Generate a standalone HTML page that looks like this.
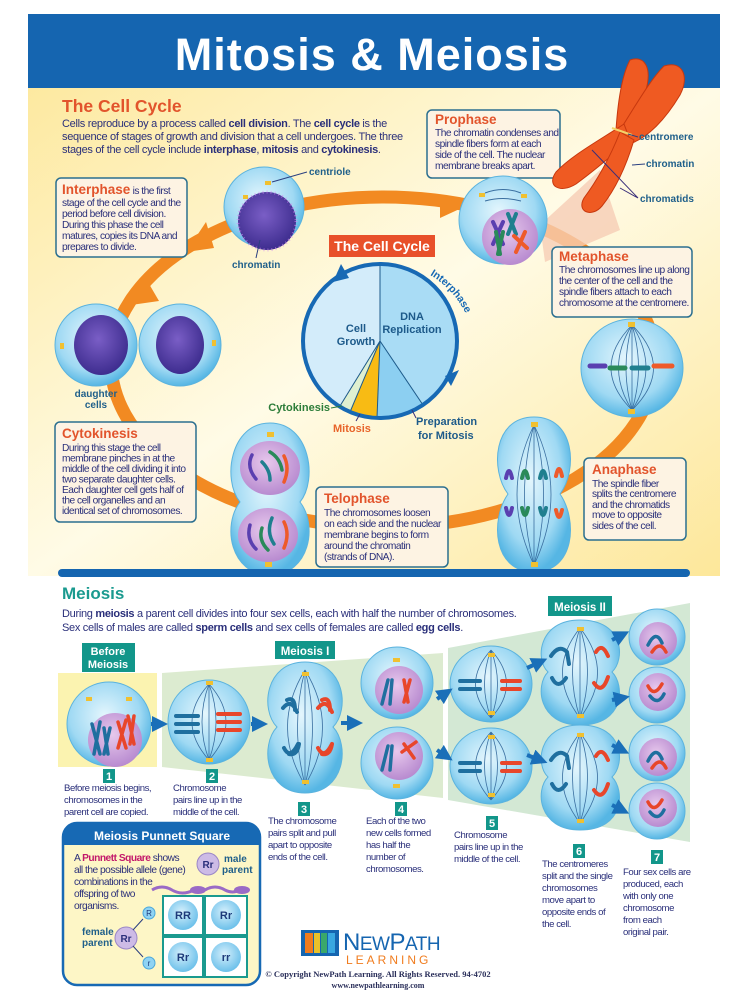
<!DOCTYPE html>
<html><head><meta charset="utf-8"><style>
html,body{margin:0;padding:0;background:#fff;}
svg{display:block;font-family:"Liberation Sans",sans-serif;}
.b{fill:#2a2f7a;font-size:10.2px;letter-spacing:-0.5px;}
.h{fill:#e2542c;font-weight:bold;font-size:13.5px;}
.lab{fill:#1f5f8a;font-weight:bold;font-size:10px;}
.cap{fill:#2a2f7a;font-size:9.6px;letter-spacing:-0.45px;}
.num{fill:#fff;font-weight:bold;font-size:11px;text-anchor:middle;}
</style></head><body>
<svg width="737" height="1000" viewBox="0 0 737 1000" xmlns="http://www.w3.org/2000/svg">
<defs>
<radialGradient id="cell" cx="45%" cy="40%" r="60%"><stop offset="0" stop-color="#e4f6fd"/><stop offset="0.7" stop-color="#9fd9f3"/><stop offset="1" stop-color="#56b6e4"/></radialGradient>
<radialGradient id="nuc" cx="45%" cy="40%" r="60%"><stop offset="0" stop-color="#7a5ec6"/><stop offset="1" stop-color="#3e2d8f"/></radialGradient>
<radialGradient id="pnk" cx="45%" cy="40%" r="60%"><stop offset="0" stop-color="#e7c8ec"/><stop offset="1" stop-color="#b88bd0"/></radialGradient>
<linearGradient id="yel" x1="0" y1="0" x2="1" y2="1"><stop offset="0" stop-color="#fde9a0"/><stop offset="0.5" stop-color="#fffbe6"/><stop offset="1" stop-color="#fde79a"/></linearGradient>
<radialGradient id="pc" cx="45%" cy="40%" r="60%"><stop offset="0" stop-color="#d6f0fc"/><stop offset="1" stop-color="#6cc0ea"/></radialGradient>
<marker id="ah" markerWidth="4" markerHeight="4" refX="2" refY="2" orient="auto"><path d="M0,0 L4,2 L0,4Z" fill="#1a6fb8"/></marker>
</defs>

<rect x="28" y="14" width="692" height="74" fill="#1565b0"/>
<text x="372" y="70" text-anchor="middle" font-size="45" font-weight="bold" fill="#fff" letter-spacing="1">Mitosis &amp; Meiosis</text>
<rect x="28" y="88" width="692" height="488" fill="url(#yel)"/>

<ellipse cx="383" cy="362" rx="272" ry="165" fill="none" stroke="#f28a22" stroke-width="13"/>
<path d="M186,252 l20,-30 l8,26z" fill="#f28a22"/>
<path d="M440,196 l26,10 l-26,12z" fill="#f28a22"/>
<path d="M131,305 l14,-28 l14,24z" fill="#f28a22"/>

<text x="62" y="112" font-size="17.5" font-weight="bold" fill="#e2542c">The Cell Cycle</text>
<text x="62" y="127" font-size="11" fill="#2a2f7a" letter-spacing="-0.3">Cells reproduce by a process called <tspan font-weight="bold">cell division</tspan>. The <tspan font-weight="bold">cell cycle</tspan> is the</text>
<text x="62" y="140" font-size="11" fill="#2a2f7a" letter-spacing="-0.3">sequence of stages of growth and division that a cell undergoes. The three</text>
<text x="62" y="153" font-size="11" fill="#2a2f7a" letter-spacing="-0.3">stages of the cell cycle include <tspan font-weight="bold">interphase</tspan>, <tspan font-weight="bold">mitosis</tspan> and <tspan font-weight="bold">cytokinesis</tspan>.</text>

<rect x="56" y="178" width="131" height="79" rx="5" fill="#fdf3e3" stroke="#2b6f8f" stroke-width="1.5"/>
<text x="62" y="194"><tspan class="h" font-size="13">Interphase</tspan><tspan class="b"> is the first</tspan></text>
<text class="b" x="62" y="206">stage of the cell cycle and the</text>
<text class="b" x="62" y="217">period before cell division.</text>
<text class="b" x="62" y="228">During this phase the cell</text>
<text class="b" x="62" y="239">matures, copies its DNA and</text>
<text class="b" x="62" y="250">prepares to divide.</text>

<circle cx="264" cy="207" r="40" fill="url(#cell)" stroke="#5bb3de"/>
<circle cx="267" cy="221" r="29" fill="url(#nuc)"/>
<circle cx="267" cy="221" r="29" fill="none" stroke="#d08cf0" stroke-width="3" stroke-dasharray="1 3" opacity="0.6"/>
<rect x="265" y="181" width="6" height="4" fill="#f0c030"/><rect x="243" y="195" width="5" height="4" fill="#f0c030"/>
<line x1="272" y1="182" x2="307" y2="172" stroke="#2a3f80"/>
<text class="lab" x="309" y="175" font-weight="normal">centriole</text>
<line x1="260" y1="240" x2="256" y2="258" stroke="#2a3f80"/>
<text class="lab" x="232" y="268">chromatin</text>

<rect x="427" y="110" width="133" height="68" rx="5" fill="#fdf3e3" stroke="#2b6f8f" stroke-width="1.5"/>
<text class="h" x="435" y="124">Prophase</text>
<text class="b" x="435" y="136">The chromatin condenses and</text>
<text class="b" x="435" y="147">spindle fibers form at each</text>
<text class="b" x="435" y="158">side of the cell. The nuclear</text>
<text class="b" x="435" y="169">membrane breaks apart.</text>

<path d="M540,225 L600,170 L620,230 L545,262Z" fill="#f6cdb5" opacity="0.8"/>
<g fill="#ef5a22" stroke="#c7380e" stroke-width="1">
<path d="M616,130 C618,100 622,75 630,60 C645,55 652,68 646,90 C640,110 634,125 628,137Z"/>
<path d="M620,130 C636,105 650,80 664,66 C682,60 690,76 680,95 C665,120 648,137 632,143Z"/>
<path d="M624,124 C600,140 572,155 556,172 C546,186 560,194 576,184 C598,168 616,152 630,140Z"/>
<path d="M620,132 C610,158 596,182 584,198 C576,212 592,218 602,206 C618,186 628,160 634,140Z"/>
</g>
<line x1="612" y1="128" x2="632" y2="135" stroke="#f3d36a" stroke-width="2"/>
<line x1="628" y1="134" x2="638" y2="137" stroke="#2a3f80"/>
<text class="lab" x="639" y="140" font-weight="normal" fill="#1a5e80">centromere</text>
<line x1="632" y1="165" x2="645" y2="164" stroke="#2a3f80"/>
<text class="lab" x="646" y="167" font-weight="normal">chromatin</text>
<polyline points="592,150 638,198 620,188" fill="none" stroke="#3a2f7a"/>
<text class="lab" x="640" y="202" font-weight="normal">chromatids</text>

<circle cx="503" cy="220" r="44" fill="url(#cell)" stroke="#5bb3de"/>
<circle cx="510" cy="237" r="28" fill="url(#pnk)"/>
<path d="M485,193 Q503,186 521,193" fill="none" stroke="#3a6fa0"/><path d="M485,201 Q503,196 521,201" fill="none" stroke="#3a6fa0"/>
<rect x="479" y="193" width="6" height="4" fill="#f0c030"/><rect x="521" y="194" width="6" height="4" fill="#f0c030"/>
<g stroke-width="4" stroke-linecap="round" fill="none">
<path d="M493,222 L503,244 M503,222 L493,244" stroke="#5a3fb0"/>
<path d="M508,214 L516,234 M516,214 L508,234" stroke="#1f7f8f"/>
<path d="M496,232 L500,254 M503,232 L498,254" stroke="#2a8a5a"/>
<path d="M514,236 L527,248 M525,232 L516,252" stroke="#ee5a2a"/>
</g>

<rect x="552" y="247" width="140" height="70" rx="5" fill="#fdf3e3" stroke="#2b6f8f" stroke-width="1.5"/>
<text class="h" x="559" y="261">Metaphase</text>
<text class="b" x="559" y="273">The chromosomes line up along</text>
<text class="b" x="559" y="284">the center of the cell  and the</text>
<text class="b" x="559" y="295">spindle fibers attach to each</text>
<text class="b" x="559" y="306">chromosome at the centromere.</text>

<ellipse cx="632" cy="368" rx="51" ry="49" fill="url(#cell)" stroke="#5bb3de"/>
<g fill="none" stroke="#3a6fa0" stroke-width="0.8">
<path d="M632,325 Q590,368 632,410"/><path d="M632,325 Q605,368 632,410"/><path d="M632,325 Q620,368 632,410"/><path d="M632,325 L632,410"/><path d="M632,325 Q645,368 632,410"/><path d="M632,325 Q660,368 632,410"/><path d="M632,325 Q675,368 632,410"/>
</g>
<rect x="628" y="322" width="7" height="5" fill="#f0c030"/><rect x="628" y="409" width="7" height="5" fill="#f0c030"/>
<g stroke-width="5" stroke-linecap="round"><line x1="590" y1="366" x2="605" y2="366" stroke="#5a3fb0"/><line x1="610" y1="368" x2="625" y2="368" stroke="#2a8a5a"/><line x1="632" y1="368" x2="648" y2="368" stroke="#1f7f8f"/><line x1="654" y1="366" x2="672" y2="366" stroke="#ee5a2a"/></g>

<rect x="329" y="235" width="106" height="22" fill="#e8502a"/>
<text x="382" y="251" text-anchor="middle" font-size="14" font-weight="bold" fill="#fff">The Cell Cycle</text>
<circle cx="380" cy="341" r="77" fill="#d3ecfa"/>
<path d="M380,341 L380,264 A77,77 0 0 1 423,405Z" fill="#a9dcf5"/>
<path d="M380,341 L423,405 A77,77 0 0 1 377,418Z" fill="#8ccff1"/>
<path d="M380,341 L377,418 A77,77 0 0 1 350,412Z" fill="#f8bb14"/>
<path d="M380,341 L350,412 A77,77 0 0 1 340,406Z" fill="#dff0d0"/>
<g stroke="#1d5a8a" stroke-width="1"><line x1="380" y1="341" x2="380" y2="264"/><line x1="380" y1="341" x2="423" y2="405"/><line x1="380" y1="341" x2="377" y2="418"/><line x1="380" y1="341" x2="350" y2="412"/><line x1="380" y1="341" x2="340" y2="406"/></g>
<circle cx="380" cy="341" r="77" fill="none" stroke="#1769b4" stroke-width="4"/>
<path d="M333,282 l8,-18 l8,14z" fill="#1769b4"/>
<path d="M445,376 l14,-6 l-8,16z" fill="#1769b4"/>
<path id="arc" d="M430,275 A92,92 0 0 1 472,330" fill="none"/>
<text font-size="10.5" font-weight="bold" fill="#1769b4"><textPath href="#arc">Interphase</textPath></text>
<text x="356" y="332" text-anchor="middle" font-size="11" font-weight="bold" fill="#1d5a8a">Cell</text>
<text x="356" y="345" text-anchor="middle" font-size="11" font-weight="bold" fill="#1d5a8a">Growth</text>
<text x="412" y="320" text-anchor="middle" font-size="11" font-weight="bold" fill="#1d5a8a">DNA</text>
<text x="412" y="333" text-anchor="middle" font-size="11" font-weight="bold" fill="#1d5a8a">Replication</text>
<text x="330" y="411" text-anchor="end" font-size="11" font-weight="bold" fill="#2d7d3a">Cytokinesis</text>
<line x1="331" y1="408" x2="342" y2="406" stroke="#2d7d3a"/>
<text x="333" y="432" font-size="11" font-weight="bold" fill="#e8642a">Mitosis</text>
<line x1="356" y1="421" x2="360" y2="414" stroke="#3a2f7a"/>
<text x="416" y="425" font-size="11" font-weight="bold" fill="#1d5a8a">Preparation</text>
<text x="418" y="439" font-size="11" font-weight="bold" fill="#1d5a8a">for Mitosis</text>
<line x1="416" y1="418" x2="412" y2="410" stroke="#3a2f7a"/>

<path d="M534,417 C575,417 578,470 560,494 C578,520 575,572 534,572 C493,572 490,520 508,494 C490,470 493,417 534,417Z" fill="url(#cell)" stroke="#5bb3de"/>
<g fill="none" stroke="#3a6fa0" stroke-width="0.8"><path d="M534,425 Q500,494 534,565"/><path d="M534,425 Q515,494 534,565"/><path d="M534,425 L534,565"/><path d="M534,425 Q553,494 534,565"/><path d="M534,425 Q568,494 534,565"/></g>
<rect x="531" y="422" width="7" height="5" fill="#f0c030"/><rect x="531" y="562" width="7" height="5" fill="#f0c030"/>
<g stroke-width="4" fill="none" stroke-linecap="round"><path d="M506,478 q3,-14 6,0" stroke="#5a3fb0"/><path d="M522,478 q3,-14 6,0" stroke="#2a8a5a"/><path d="M540,478 q3,-14 6,0" stroke="#1f7f8f"/><path d="M556,476 q3,-14 6,0" stroke="#ee5a2a"/>
<path d="M506,508 q3,14 6,0" stroke="#5a3fb0"/><path d="M522,508 q3,14 6,0" stroke="#2a8a5a"/><path d="M540,508 q3,14 6,0" stroke="#1f7f8f"/><path d="M556,510 q3,14 6,0" stroke="#ee5a2a"/></g>

<rect x="584" y="458" width="102" height="82" rx="5" fill="#fdf3e3" stroke="#2b6f8f" stroke-width="1.5"/>
<text class="h" x="592" y="474">Anaphase</text>
<text class="b" x="592" y="487">The spindle fiber</text>
<text class="b" x="592" y="497">splits the centromere</text>
<text class="b" x="592" y="508">and the chromatids</text>
<text class="b" x="592" y="518">move to opposite</text>
<text class="b" x="592" y="529">sides of the cell.</text>

<path d="M270,423 C310,423 318,480 300,502 C318,525 310,575 270,575 C230,575 222,525 240,502 C222,480 230,423 270,423Z" fill="url(#cell)" stroke="#5bb3de"/>
<ellipse cx="270" cy="468" rx="30" ry="27" fill="url(#pnk)"/>
<ellipse cx="268" cy="535" rx="30" ry="27" fill="url(#pnk)"/>
<g stroke-width="3.5" fill="none" stroke-linecap="round">
<path d="M252,455 q-6,12 4,24" stroke="#5a3fb0"/><path d="M262,462 q8,8 8,18" stroke="#1f7f8f"/><path d="M270,452 q10,6 12,18" stroke="#2a8a5a"/><path d="M284,456 q6,12 0,26" stroke="#ee5a2a"/>
<path d="M250,525 q-4,14 6,24" stroke="#5a3fb0"/><path d="M262,528 q-4,12 6,22" stroke="#2a8a5a"/><path d="M272,518 q-6,14 2,26" stroke="#1f7f8f"/><path d="M284,522 q6,12 0,26" stroke="#ee5a2a"/></g>
<rect x="267" y="432" width="7" height="5" fill="#f0c030"/><rect x="265" y="562" width="7" height="5" fill="#f0c030"/>

<rect x="316" y="487" width="132" height="80" rx="5" fill="#fdf3e3" stroke="#2b6f8f" stroke-width="1.5"/>
<text class="h" x="324" y="503">Telophase</text>
<text class="b" x="324" y="516">The chromosomes loosen</text>
<text class="b" x="324" y="527">on each side and the nuclear</text>
<text class="b" x="324" y="538">membrane begins to form</text>
<text class="b" x="324" y="549">around the chromatin</text>
<text class="b" x="324" y="560">(strands of DNA).</text>

<circle cx="96" cy="345" r="41" fill="url(#cell)" stroke="#5bb3de"/>
<circle cx="180" cy="345" r="41" fill="url(#cell)" stroke="#5bb3de"/>
<ellipse cx="101" cy="345" rx="27" ry="30" fill="url(#nuc)"/>
<ellipse cx="180" cy="345" rx="24" ry="29" fill="url(#nuc)"/>
<rect x="60" y="343" width="4" height="6" fill="#f0c030"/><rect x="212" y="340" width="4" height="6" fill="#f0c030"/>
<text x="96" y="397" text-anchor="middle" class="lab">daughter</text>
<text x="96" y="408" text-anchor="middle" class="lab">cells</text>

<rect x="55" y="422" width="141" height="100" rx="5" fill="#fdf3e3" stroke="#2b6f8f" stroke-width="1.5"/>
<text class="h" x="62" y="438">Cytokinesis</text>
<text class="b" x="62" y="451">During this stage the cell</text>
<text class="b" x="62" y="461.5">membrane pinches in at the</text>
<text class="b" x="62" y="472">middle of the cell dividing it into</text>
<text class="b" x="62" y="482.5">two separate daughter cells.</text>
<text class="b" x="62" y="493">Each daughter cell gets half of</text>
<text class="b" x="62" y="503.5">the cell organelles and an</text>
<text class="b" x="62" y="514">identical set of chromosomes.</text>

<rect x="58" y="569" width="632" height="8" rx="4" fill="#1565b0"/>

<text x="62" y="599" font-size="17" font-weight="bold" fill="#1a9a8f">Meiosis</text>
<text x="62" y="617" font-size="11" fill="#2a2f7a" letter-spacing="-0.3">During <tspan font-weight="bold">meiosis</tspan> a parent cell divides into four sex cells, each with half the number of chromosomes.</text>
<text x="62" y="631" font-size="11" fill="#2a2f7a" letter-spacing="-0.3">Sex cells of males are called <tspan font-weight="bold">sperm cells</tspan> and sex cells of females are called <tspan font-weight="bold">egg cells</tspan>.</text>

<rect x="58" y="673" width="99" height="94" fill="#fbf3b0"/>
<polygon points="162,673 443,653 443,798 162,767" fill="#dcebd0"/>
<polygon points="448,648 690,603 690,842 448,800" fill="#d3e8d4"/>

<rect x="82" y="643" width="53" height="29" fill="#12968a"/>
<text x="108" y="655" text-anchor="middle" font-size="11" font-weight="bold" fill="#fff">Before</text>
<text x="108" y="668" text-anchor="middle" font-size="11" font-weight="bold" fill="#fff">Meiosis</text>
<rect x="275" y="641" width="60" height="18" fill="#12968a"/>
<text x="305" y="655" text-anchor="middle" font-size="11.5" font-weight="bold" fill="#fff">Meiosis I</text>
<rect x="548" y="596" width="64" height="20" fill="#12968a"/>
<text x="580" y="611" text-anchor="middle" font-size="11.5" font-weight="bold" fill="#fff">Meiosis II</text>

<circle cx="109" cy="724" r="42" fill="url(#cell)" stroke="#5bb3de"/>
<circle cx="115" cy="740" r="27" fill="url(#pnk)"/>
<rect x="86" y="697" width="6" height="4" fill="#f0c030"/><rect x="126" y="697" width="6" height="4" fill="#f0c030"/>
<g stroke-width="3.5" stroke-linecap="round" fill="none"><path d="M92,724 l8,30 M100,722 l-6,32" stroke="#1f6f9f"/><path d="M104,728 l4,26 M110,728 l-6,26" stroke="#1f6f9f"/><path d="M118,722 l8,26 M126,720 l-8,28" stroke="#e8462a"/><path d="M128,716 l6,28 M134,716 l-4,28" stroke="#e8462a"/></g>

<ellipse cx="209" cy="722" rx="41" ry="42" fill="url(#cell)" stroke="#5bb3de"/>
<g fill="none" stroke="#3a6fa0" stroke-width="0.8"><path d="M209,684 Q175,722 209,760"/><path d="M209,684 Q195,722 209,760"/><path d="M209,684 L209,760"/><path d="M209,684 Q223,722 209,760"/><path d="M209,684 Q243,722 209,760"/></g>
<rect x="206" y="681" width="7" height="4" fill="#f0c030"/><rect x="206" y="758" width="7" height="4" fill="#f0c030"/>
<g stroke-width="4" stroke-linecap="round"><path d="M176,716 h22 M176,724 h22" stroke="#1f6f9f"/><path d="M218,714 h22 M218,722 h22 M218,730 h22" stroke="#e8462a"/><path d="M176,732 h22" stroke="#1f6f9f"/></g>

<path d="M305,662 C345,662 350,710 333,727 C350,745 345,793 305,793 C265,793 260,745 277,727 C260,710 265,662 305,662Z" fill="url(#cell)" stroke="#5bb3de"/>
<g fill="none" stroke="#3a6fa0" stroke-width="0.8"><path d="M305,670 Q270,727 305,785"/><path d="M305,670 Q290,727 305,785"/><path d="M305,670 L305,785"/><path d="M305,670 Q320,727 305,785"/><path d="M305,670 Q340,727 305,785"/></g>
<rect x="302" y="672" width="7" height="4" fill="#f0c030"/><rect x="302" y="780" width="7" height="4" fill="#f0c030"/>
<g stroke-width="4" fill="none" stroke-linecap="round"><path d="M283,708 q8,-10 14,4 M287,700 q8,-4 8,10" stroke="#1f6f9f"/><path d="M318,708 q8,-10 14,4 M322,700 q8,-4 8,10" stroke="#e8462a"/><path d="M284,748 q6,12 14,-4 M289,754 q8,2 10,-10" stroke="#1f6f9f"/><path d="M318,748 q6,12 14,-4 M322,754 q8,2 10,-10" stroke="#e8462a"/></g>

<circle cx="397" cy="683" r="36" fill="url(#cell)" stroke="#5bb3de"/><circle cx="397" cy="763" r="36" fill="url(#cell)" stroke="#5bb3de"/>
<circle cx="399" cy="690" r="24" fill="url(#pnk)"/><circle cx="399" cy="756" r="24" fill="url(#pnk)"/>
<rect x="393" y="658" width="7" height="4" fill="#f0c030"/><rect x="393" y="784" width="7" height="4" fill="#f0c030"/>
<g stroke-width="3.5" stroke-linecap="round"><path d="M388,680 l-6,24 M392,680 l-2,24" stroke="#1f6f9f"/><path d="M404,680 l4,22 M410,680 l-6,22" stroke="#e8462a"/><path d="M388,746 l-6,24 M392,746 l-2,24" stroke="#1f6f9f"/><path d="M402,752 l14,-10 M404,744 l10,14" stroke="#e8462a"/></g>

<ellipse cx="491" cy="684" rx="41" ry="38" fill="url(#cell)" stroke="#5bb3de"/><ellipse cx="491" cy="766" rx="41" ry="38" fill="url(#cell)" stroke="#5bb3de"/>
<g fill="none" stroke="#3a6fa0" stroke-width="0.8"><path d="M491,650 Q460,684 491,718 M491,650 Q478,684 491,718 M491,650 L491,718 M491,650 Q504,684 491,718 M491,650 Q522,684 491,718"/><path d="M491,732 Q460,766 491,800 M491,732 Q478,766 491,800 M491,732 L491,800 M491,732 Q504,766 491,800 M491,732 Q522,766 491,800"/></g>
<g fill="#f0c030"><rect x="488" y="653" width="7" height="4"/><rect x="488" y="711" width="7" height="4"/><rect x="488" y="735" width="7" height="4"/><rect x="488" y="793" width="7" height="4"/></g>
<g stroke-width="4" stroke-linecap="round"><path d="M460,681 h20 M460,689 h20 M460,763 h20 M460,771 h20" stroke="#1f6f9f"/><path d="M502,681 h18 M502,689 h18 M502,763 h18 M502,771 h18" stroke="#e8462a"/></g>

<path d="M580,620 C625,620 625,660 612,672 C625,685 625,725 580,725 C538,725 535,685 548,672 C535,660 538,620 580,620Z" fill="url(#cell)" stroke="#5bb3de"/>
<path d="M580,725 C625,725 625,765 612,777 C625,790 625,830 580,830 C538,830 535,790 548,777 C535,765 538,725 580,725Z" fill="url(#cell)" stroke="#5bb3de"/>
<g fill="none" stroke="#3a6fa0" stroke-width="0.8"><path d="M580,628 Q545,672 580,718 M580,628 Q565,672 580,718 M580,628 L580,718 M580,628 Q595,672 580,718 M580,628 Q615,672 580,718"/><path d="M580,733 Q545,777 580,823 M580,733 Q565,777 580,823 M580,733 L580,823 M580,733 Q595,777 580,823 M580,733 Q615,777 580,823"/></g>
<g fill="#f0c030"><rect x="577" y="627" width="7" height="4"/><rect x="577" y="714" width="7" height="4"/><rect x="577" y="733" width="7" height="4"/><rect x="577" y="819" width="7" height="4"/></g>
<g stroke-width="4" fill="none" stroke-linecap="round"><path d="M551,656 q8,-12 16,-4 l2,12" stroke="#1f6f9f"/><path d="M596,652 q6,-10 12,4" stroke="#e8462a"/><path d="M552,678 q6,12 14,0" stroke="#1f6f9f"/><path d="M594,683 q8,12 14,-6" stroke="#e8462a"/><path d="M551,760 q8,-12 16,-4 l2,12" stroke="#1f6f9f"/><path d="M596,756 q6,-10 12,4" stroke="#e8462a"/><path d="M552,784 q6,12 14,0" stroke="#1f6f9f"/><path d="M594,790 q8,12 14,-6" stroke="#e8462a"/></g>

<g><circle cx="657" cy="637" r="28" fill="url(#cell)" stroke="#5bb3de"/><circle cx="657" cy="695" r="28" fill="url(#cell)" stroke="#5bb3de"/><circle cx="657" cy="753" r="28" fill="url(#cell)" stroke="#5bb3de"/><circle cx="657" cy="811" r="28" fill="url(#cell)" stroke="#5bb3de"/>
<circle cx="658" cy="641" r="19" fill="url(#pnk)"/><circle cx="658" cy="692" r="19" fill="url(#pnk)"/><circle cx="658" cy="757" r="19" fill="url(#pnk)"/><circle cx="658" cy="808" r="19" fill="url(#pnk)"/></g>
<g stroke-width="3.5" fill="none" stroke-linecap="round"><path d="M648,645 q8,-16 14,-2" stroke="#1f6f9f"/><path d="M652,652 q8,-12 14,0" stroke="#e8462a"/><path d="M648,686 q6,12 14,-2" stroke="#e8462a"/><path d="M650,696 q8,10 14,-2" stroke="#1f6f9f"/><path d="M648,761 q8,-16 14,-2" stroke="#1f6f9f"/><path d="M652,768 q8,-12 14,0" stroke="#e8462a"/><path d="M648,802 q6,12 14,-2" stroke="#e8462a"/><path d="M650,812 q8,10 14,-2" stroke="#1f6f9f"/></g>

<g stroke="#1a6fb8" stroke-width="4" marker-end="url(#ah)"><line x1="151" y1="724" x2="160" y2="724"/><line x1="251" y1="724" x2="260" y2="724"/><line x1="341" y1="723" x2="355" y2="723"/><line x1="437" y1="699" x2="446" y2="693"/><line x1="437" y1="750" x2="446" y2="756"/><line x1="527" y1="668" x2="540" y2="662"/><line x1="527" y1="755" x2="540" y2="760"/><line x1="612" y1="640" x2="622" y2="635"/><line x1="612" y1="700" x2="622" y2="698"/><line x1="612" y1="745" x2="622" y2="750"/><line x1="612" y1="805" x2="622" y2="810"/></g>

<g fill="#12968a"><rect x="103" y="769" width="12" height="14"/><rect x="206" y="769" width="12" height="14"/><rect x="298" y="802" width="12" height="14"/><rect x="395" y="802" width="12" height="14"/><rect x="486" y="816" width="12" height="14"/><rect x="573" y="844" width="12" height="14"/><rect x="651" y="850" width="12" height="14"/></g>
<text class="num" x="109" y="780">1</text><text class="num" x="212" y="780">2</text><text class="num" x="304" y="813">3</text><text class="num" x="401" y="813">4</text><text class="num" x="492" y="827">5</text><text class="num" x="579" y="855">6</text><text class="num" x="657" y="861">7</text>
<text class="cap" x="64" y="791">Before meiosis begins,</text><text class="cap" x="64" y="803">chromosomes in the</text><text class="cap" x="64" y="815">parent cell are copied.</text>
<text class="cap" x="173" y="791">Chromosome</text><text class="cap" x="173" y="803">pairs line up in the</text><text class="cap" x="173" y="815">middle of the cell.</text>
<text class="cap" x="268" y="824">The chromosome</text><text class="cap" x="268" y="836">pairs split and pull</text><text class="cap" x="268" y="848">apart to opposite</text><text class="cap" x="268" y="860">ends of the cell.</text>
<text class="cap" x="366" y="824">Each of the two</text><text class="cap" x="366" y="836">new cells formed</text><text class="cap" x="366" y="848">has half the</text><text class="cap" x="366" y="860">number of</text><text class="cap" x="366" y="872">chromosomes.</text>
<text class="cap" x="454" y="838">Chromosome</text><text class="cap" x="454" y="850">pairs line up in the</text><text class="cap" x="454" y="862">middle of the cell.</text>
<text class="cap" x="542" y="867">The centromeres</text><text class="cap" x="542" y="879">split and the single</text><text class="cap" x="542" y="891">chromosomes</text><text class="cap" x="542" y="903">move apart to</text><text class="cap" x="542" y="915">opposite ends of</text><text class="cap" x="542" y="927">the cell.</text>
<text class="cap" x="623" y="875">Four sex cells are</text><text class="cap" x="623" y="887">produced, each</text><text class="cap" x="623" y="899">with only one</text><text class="cap" x="623" y="911">chromosome</text><text class="cap" x="623" y="923">from each</text><text class="cap" x="623" y="935">original pair.</text>

<rect x="63" y="823" width="197" height="162" rx="14" fill="#fdf6c6" stroke="#1769b4" stroke-width="2.5"/>
<path d="M63,845 L63,837 A14,14 0 0 1 77,823 L246,823 A14,14 0 0 1 260,837 L260,845Z" fill="#1769b4"/>
<text x="162" y="840" text-anchor="middle" font-size="12" font-weight="bold" fill="#fff">Meiosis Punnett Square</text>
<text x="74" y="861" class="b" font-size="10.5"><tspan>A </tspan><tspan fill="#c2186a" font-weight="bold">Punnett Square</tspan><tspan> shows</tspan></text>
<text class="b" font-size="10.5" x="74" y="873">all the possible allele (gene)</text>
<text class="b" font-size="10.5" x="74" y="885">combinations in the</text>
<text class="b" font-size="10.5" x="74" y="897">offspring of two</text>
<text class="b" font-size="10.5" x="74" y="909">organisms.</text>
<circle cx="208" cy="864" r="11" fill="#cdbbe6" stroke="#9a86c6"/><text x="208" y="868" text-anchor="middle" font-size="10" font-weight="bold" fill="#2a2f7a">Rr</text>
<text x="224" y="862" class="lab" font-size="9.5">male</text><text x="222" y="873" class="lab" font-size="9.5">parent</text>
<path d="M152,890 q10,-6 20,0 q10,6 22,0" fill="none" stroke="#9a6ac6" stroke-width="3"/><ellipse cx="198" cy="890" rx="8" ry="4" fill="#9a6ac6"/>
<path d="M205,890 q10,-6 20,0 q8,4 14,0" fill="none" stroke="#9a6ac6" stroke-width="3"/><ellipse cx="242" cy="890" rx="8" ry="4" fill="#9a6ac6"/>
<g fill="#fff" stroke="#1a9a8f" stroke-width="2"><rect x="163" y="896" width="40" height="39"/><rect x="205" y="896" width="42" height="39"/><rect x="163" y="937" width="40" height="40"/><rect x="205" y="937" width="42" height="40"/></g>
<g fill="url(#pc)"><circle cx="183" cy="915" r="15"/><circle cx="226" cy="915" r="15"/><circle cx="183" cy="957" r="15"/><circle cx="226" cy="957" r="15"/></g>
<g font-size="11" font-weight="bold" fill="#1d3a7a" text-anchor="middle"><text x="183" y="919">RR</text><text x="226" y="919">Rr</text><text x="183" y="961">Rr</text><text x="226" y="961">rr</text></g>
<circle cx="126" cy="938" r="11" fill="#cdbbe6" stroke="#9a86c6"/><text x="126" y="942" text-anchor="middle" font-size="10" font-weight="bold" fill="#2a2f7a">Rr</text>
<text x="82" y="935" class="lab" font-size="9.5">female</text><text x="82" y="946" class="lab" font-size="9.5">parent</text>
<circle cx="149" cy="913" r="6" fill="#8fd3f3" stroke="#4aa8dc"/><text x="149" y="916" text-anchor="middle" font-size="8" fill="#1d3a7a">R</text>
<circle cx="149" cy="963" r="6" fill="#8fd3f3" stroke="#4aa8dc"/><text x="149" y="966" text-anchor="middle" font-size="8" fill="#1d3a7a">r</text>
<line x1="133" y1="930" x2="143" y2="919" stroke="#2a3f80"/><line x1="133" y1="946" x2="143" y2="957" stroke="#2a3f80"/>

<rect x="301" y="930" width="38" height="26" fill="#1565b0"/>
<rect x="305" y="933" width="8" height="20" fill="#f07c1e"/><rect x="314" y="933" width="6" height="20" fill="#e9c12a"/><rect x="321" y="933" width="6" height="20" fill="#3aa86a"/><rect x="328" y="933" width="7" height="20" fill="#39a7e0"/>
<text x="343" y="950" font-size="24" fill="#1565b0" letter-spacing="-0.5">N<tspan font-size="19">EW</tspan>P<tspan font-size="19">ATH</tspan></text>
<text x="346" y="964" font-size="12" fill="#f07c1e" letter-spacing="3">LEARNING</text>
<text x="378" y="977" text-anchor="middle" font-family="Liberation Serif,serif" font-size="8.5" font-weight="bold" fill="#2a2f5a">© Copyright NewPath Learning. All Rights Reserved. 94-4702</text>
<text x="378" y="988" text-anchor="middle" font-family="Liberation Serif,serif" font-size="8" font-weight="bold" fill="#2a2f5a">www.newpathlearning.com</text>
</svg>
</body></html>
